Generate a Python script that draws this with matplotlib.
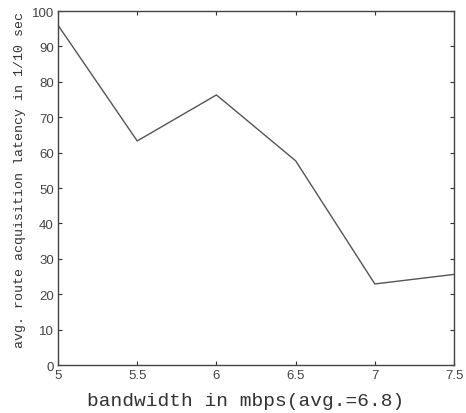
import matplotlib
matplotlib.use('Agg')
from matplotlib import pyplot as plt

# bandwidth (mbps) vs avg route acquisition latency
bandwidth = [5, 5.5, 6, 6.5, 7, 7.5]
latency = [96.0, 63.3, 76.3, 57.7, 22.9, 25.6]

x_ticks = [5, 5.5, 6, 6.5, 7, 7.5]
x_tick_labels = ['5', '5.5', '6', '6.5', '7', '7.5']
y_ticks = [0, 10, 20, 30, 40, 50, 60, 70, 80, 90, 100]

fig = plt.figure(figsize=(4.66, 4.14), dpi=100)
ax = fig.add_axes([0.1245, 0.1159, 0.8498, 0.855])

ax.plot(bandwidth, latency, color='#555555', linewidth=1.0)

ax.set_xlim(5, 7.5)
ax.set_ylim(0, 100)
ax.set_xticks(x_ticks)
ax.set_xticklabels(x_tick_labels)
ax.set_yticks(y_ticks)

ax.tick_params(direction='in', top=True, right=True, length=3, width=0.8,
               colors='#333333', labelsize=9.5, labelcolor='#444444', pad=3)
for lbl in ax.get_xticklabels() + ax.get_yticklabels():
    lbl.set_family('Liberation Sans')
for s in ax.spines.values():
    s.set_color('#444444')
    s.set_linewidth(1.0)

ax.set_xlabel('bandwidth in mbps(avg.=6.8)', family='Liberation Mono',
              fontsize=14, color='#333333')
ax.xaxis.set_label_coords(0.475, -0.10)
ax.set_ylabel('avg. route acquisition latency in 1/10 sec', family='Liberation Mono',
              fontsize=9.5, color='#333333')
ax.yaxis.set_label_coords(-0.096, 0.525)
ax.xaxis.label.set_va('center')
ax.yaxis.label.set_va('center')

fig.savefig('out.png', dpi=100)
